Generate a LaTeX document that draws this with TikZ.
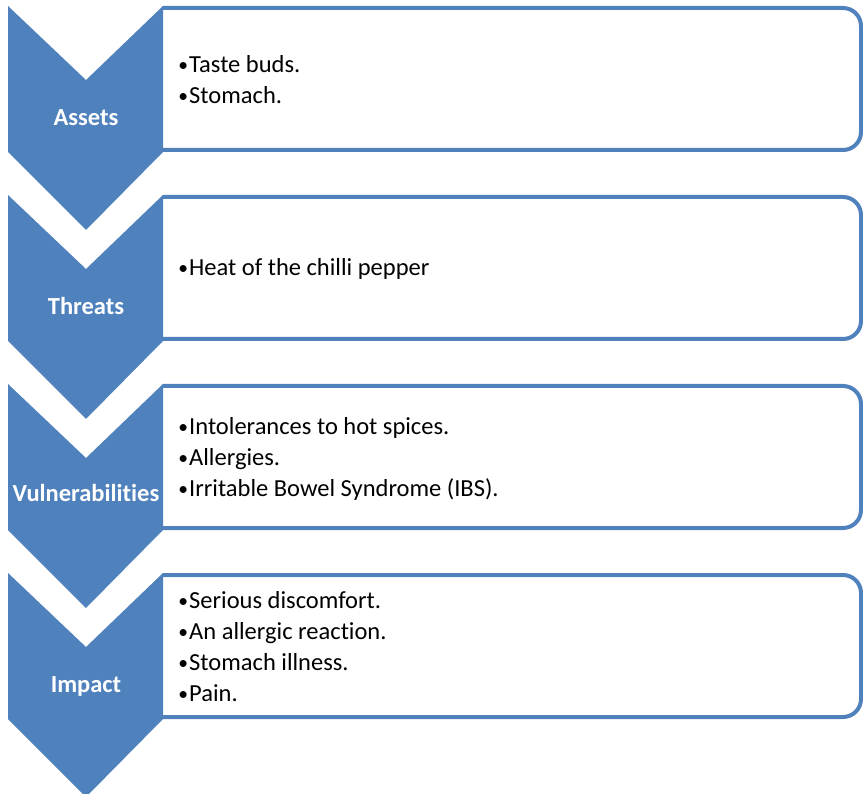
\documentclass[tikz,border=0pt]{standalone}
\usepackage{fontspec}
\setmainfont{Carlito}[Ligatures=NoCommon]
\usepackage{tikz}
\usetikzlibrary{positioning}
\definecolor{officeblue}{HTML}{4F81BD}
\newcommand{\itm}{\makebox[12pt][r]{\raisebox{1pt}{\scalebox{0.8}{•}}\hspace{1pt}}}
\tikzset{
  chevron/.style={fill=officeblue, draw=none},
  panel/.style={draw=officeblue, line width=4pt, rounded corners=18pt},
  stage/.style={text=white, font=\fontsize{24.5}{28}\selectfont\bfseries},
  items/.style={anchor=west, align=left, inner sep=0pt, font=\fontsize{24.5}{31}\selectfont}
}
\begin{document}
\begin{tikzpicture}[x=1pt, y=-1pt]
  \useasboundingbox (0,0) rectangle (863,794);
  % boxes
  \draw[panel] (163,8) -- (861,8) -- (861,150) -- (163,150);
  \draw[panel] (163,197) -- (861,197) -- (861,339) -- (163,339);
  \draw[panel] (163,386) -- (861,386) -- (861,528) -- (163,528);
  \draw[panel] (163,575) -- (861,575) -- (861,717) -- (163,717);
  % chevrons
  \fill[chevron] (8,6) -- (86,80) -- (163,6) -- (163,152) -- (86,230) -- (8,152) -- cycle;
  \fill[chevron] (8,195) -- (86,269) -- (163,195) -- (163,341) -- (86,419) -- (8,341) -- cycle;
  \fill[chevron] (8,384) -- (86,458) -- (163,384) -- (163,530) -- (86,608) -- (8,530) -- cycle;
  \fill[chevron] (8,573) -- (86,647) -- (163,573) -- (163,719) -- (86,797) -- (8,719) -- cycle;
  % stage names
  \node[stage] (assets) at (86,118) {Assets};
  \node[stage] (threats) at (86,306) {Threats};
  \node[stage] (vuln) at (86,493) {Vulnerabilities};
  \node[stage] (impact) at (86,686) {Impact};
  % lists
  \node[items] (assets-list) at (177,80) {\itm Taste buds.\\\itm Stomach.};
  \node[items] (threats-list) at (177,269) {\itm Heat of the chilli pepper};
  \node[items] (vuln-list) at (177,459) {\itm Intolerances to hot spices.\\\itm Allergies.\\\itm Irritable Bowel Syndrome (IBS).};
  \node[items] (impact-list) at (177,647) {\itm Serious discomfort.\\\itm An allergic reaction.\\\itm Stomach illness.\\\itm Pain.};
\end{tikzpicture}
\end{document}
